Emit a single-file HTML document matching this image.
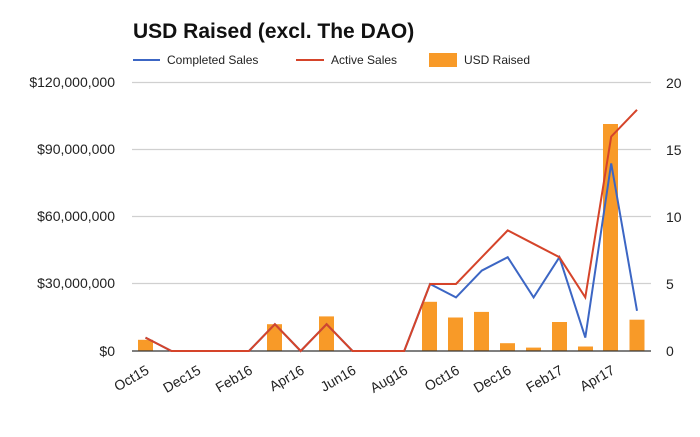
<!DOCTYPE html>
<html><head><meta charset="utf-8"><style>
body{margin:0;background:#fff;}
text{font-family:"Liberation Sans",Arial,sans-serif;}
</style></head><body>
<svg width="700" height="432" xmlns="http://www.w3.org/2000/svg">
<rect width="700" height="432" fill="#fff"/>
<text x="133" y="38" font-size="21" font-weight="bold" fill="#111">USD Raised (excl. The DAO)</text>
<line x1="133" y1="60" x2="160" y2="60" stroke="#3c66c4" stroke-width="2"/>
<text x="167" y="64" font-size="12" fill="#222">Completed Sales</text>
<line x1="296" y1="60" x2="324" y2="60" stroke="#d5442a" stroke-width="2"/>
<text x="331" y="64" font-size="12" fill="#222">Active Sales</text>
<rect x="429" y="53" width="28" height="14" fill="#f89a28"/>
<text x="464" y="64" font-size="12" fill="#222">USD Raised</text>
<g stroke="#d0d0d0" stroke-width="1.2">
<line x1="132" y1="82.5" x2="651" y2="82.5"/>
<line x1="132" y1="149.5" x2="651" y2="149.5"/>
<line x1="132" y1="216.5" x2="651" y2="216.5"/>
<line x1="132" y1="283.5" x2="651" y2="283.5"/>
</g>
<g font-size="14" fill="#222" text-anchor="end">
<text x="115" y="87">$120,000,000</text>
<text x="115" y="154">$90,000,000</text>
<text x="115" y="221">$60,000,000</text>
<text x="115" y="288">$30,000,000</text>
<text x="115" y="356">$0</text>
</g>
<g font-size="14" fill="#222">
<text x="666" y="88">20</text>
<text x="666" y="155">15</text>
<text x="666" y="222">10</text>
<text x="666" y="289">5</text>
<text x="666" y="356">0</text>
</g>
<g fill="#f89a28">
<rect x="138" y="339.8" width="15" height="11.2"/>
<rect x="267" y="324.2" width="15" height="26.8"/>
<rect x="319" y="316.4" width="15" height="34.6"/>
<rect x="422" y="301.8" width="15" height="49.2"/>
<rect x="448" y="317.5" width="15" height="33.5"/>
<rect x="474" y="311.9" width="15" height="39.1"/>
<rect x="500" y="343.2" width="15" height="7.8"/>
<rect x="526" y="347.6" width="15" height="3.4"/>
<rect x="552" y="322" width="15" height="29"/>
<rect x="578" y="346.5" width="15" height="4.5"/>
<rect x="603" y="124" width="15" height="227"/>
<rect x="629.5" y="319.7" width="15" height="31.3"/>
</g>
<line x1="132" y1="351" x2="651" y2="351" stroke="#333" stroke-width="1.3"/>
<polyline fill="none" stroke="#3c66c4" stroke-width="2" points="145.5,337.6 171.4,351 197.2,351 223.1,351 249,351 274.9,324.2 300.7,351 326.6,324.2 352.5,351 378.3,351 404.2,351 430.1,284 456,297.4 481.8,270.6 507.7,257.2 533.6,297.4 559.4,257.2 585.3,337.6 611.2,163.4 637,310.8"/>
<polyline fill="none" stroke="#d5442a" stroke-width="2" points="145.5,337.6 171.4,351 197.2,351 223.1,351 249,351 274.9,324.2 300.7,351 326.6,324.2 352.5,351 378.3,351 404.2,351 430.1,284 456,284 481.8,257.2 507.7,230.4 533.6,243.8 559.4,257.2 585.3,297.4 611.2,136.6 637,109.8"/>
<g font-size="14" fill="#222" text-anchor="end">
<text transform="translate(150,373) rotate(-30)">Oct15</text>
<text transform="translate(201.7,373) rotate(-30)">Dec15</text>
<text transform="translate(253.5,373) rotate(-30)">Feb16</text>
<text transform="translate(305.2,373) rotate(-30)">Apr16</text>
<text transform="translate(357,373) rotate(-30)">Jun16</text>
<text transform="translate(408.7,373) rotate(-30)">Aug16</text>
<text transform="translate(460.5,373) rotate(-30)">Oct16</text>
<text transform="translate(512.2,373) rotate(-30)">Dec16</text>
<text transform="translate(564,373) rotate(-30)">Feb17</text>
<text transform="translate(615.7,373) rotate(-30)">Apr17</text>
</g>
</svg>
</body></html>
